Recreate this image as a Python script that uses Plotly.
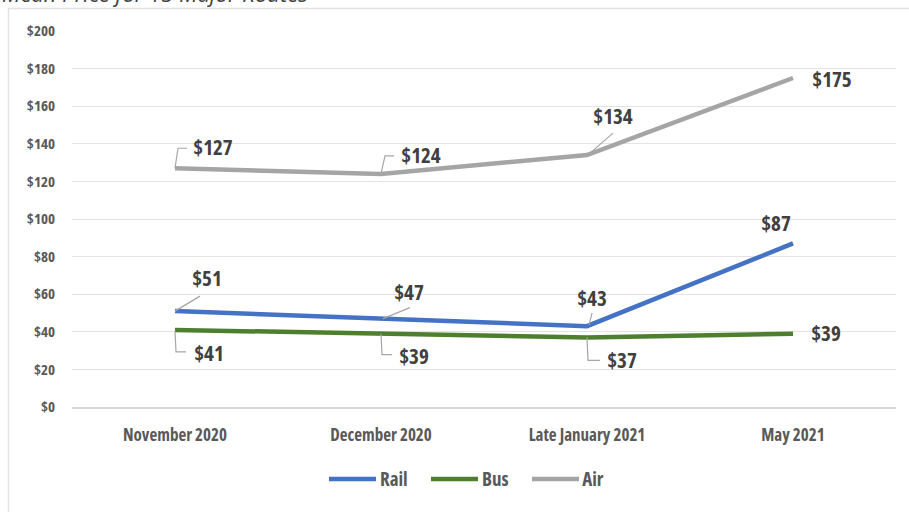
import plotly.graph_objects as go

categories = ["November 2020", "December 2020", "Late January 2021", "May 2021"]
rail = [51, 47, 43, 87]
bus = [41, 39, 37, 39]
air = [127, 124, 134, 175]
series_names = ["Rail", "Bus", "Air"]
y_ticks = [0, 20, 40, 60, 80, 100, 120, 140, 160, 180, 200]
y_tick_labels = ["$" + str(v) for v in y_ticks]

FONT = "Open Sans, sans-serif"
W, H = 909, 512
ML, MR, MT, MB = 72, 13, 31, 105
PW = W - ML - MR
PH = H - MT - MB


def px(x):
    return (x - ML) / PW


def py(y):
    return (MT + PH - y) / PH


colors = {"Rail": "#4472C4", "Bus": "#4E7F2E", "Air": "#A5A5A5"}
series = {"Rail": rail, "Bus": bus, "Air": air}

fig = go.Figure()
for name in series_names:
    fig.add_trace(go.Scatter(
        x=categories, y=series[name], name=name, mode="lines",
        line=dict(color=colors[name], width=4.5),
        hoverinfo="skip", showlegend=False,
    ))

# label offsets (pixels, y up) and leader-line paths (pixels relative to point, y up)
label_specs = {
    "Air": [
        ((38, 21), "M 0 0 L 3 20 L 12 20"),
        ((40, 19), "M 0 0 L 4 18 L 13 18"),
        ((26, 39), "M 3 2 L 26 22"),
        ((39, -1), None),
    ],
    "Rail": [
        ((32, 33), "M 0 0 L 25 15"),
        ((28, 27), "M 2 0 L 29 11"),
        ((5, 28), "M 2 1 L 5 13"),
        ((-17, 20), None),
    ],
    "Bus": [
        ((34, -23), "M 0 -1 L 1 -22 L 11 -22"),
        ((33, -22), "M 0 0 L 1 -21 L 11 -21"),
        ((35, -23), "M 0 0 L 1 -23 L 13 -23"),
        ((33, 1), None),
    ],
}

annotations = []
shapes = []
for name, specs in label_specs.items():
    vals = series[name]
    for i, ((dx, dy), path) in enumerate(specs):
        annotations.append(dict(
            x=categories[i], y=vals[i], xref="x", yref="y",
            text="$" + str(vals[i]), showarrow=False,
            xshift=dx, yshift=dy,
            font=dict(family=FONT, size=21, color="#404040", weight="bold"),
        ))
        if path:
            shapes.append(dict(
                type="path", xref="x", yref="y",
                xsizemode="pixel", ysizemode="pixel",
                xanchor=i, yanchor=vals[i],
                path=path,
                line=dict(color="#A6A6A6", width=1.2),
            ))

# outer frame
shapes.append(dict(
    type="rect", xref="paper", yref="paper",
    x0=px(8.5), x1=px(W + 5), y0=py(H + 5), y1=py(8.5),
    line=dict(color="#E3E3E3", width=1.5), fillcolor="rgba(0,0,0,0)",
    layer="below",
))

# legend (drawn manually to match long legend swatches)
legend_x = {"Rail": 329, "Bus": 431, "Air": 532}
LEG_Y = 479
for name in series_names:
    x0 = legend_x[name]
    shapes.append(dict(
        type="line", xref="paper", yref="paper",
        x0=px(x0), x1=px(x0 + 47), y0=py(LEG_Y), y1=py(LEG_Y),
        line=dict(color=colors[name], width=4.5),
    ))
    annotations.append(dict(
        x=px(x0 + 46), y=py(LEG_Y), xref="paper", yref="paper",
        xanchor="left", yanchor="middle", showarrow=False,
        text=name, borderpad=0,
        font=dict(family=FONT, size=19, color="#595959", weight="bold"),
    ))

annotations.append(dict(
    x=px(0), y=py(10), xref="paper", yref="paper",
    xanchor="left", yanchor="bottom", showarrow=False,
    text="<i>Mean Price for 15 Major Routes</i>",
    font=dict(family="Open Sans, sans-serif", size=22, color="#404040"),
))

fig.update_layout(
    width=W, height=H,
    margin=dict(l=ML, r=MR, t=MT, b=MB, autoexpand=False),
    paper_bgcolor="white", plot_bgcolor="white",
    showlegend=False,
    annotations=annotations,
    shapes=shapes,
    xaxis=dict(
        type="category", range=[-0.5, 3.5],
        showgrid=False, showline=True, linecolor="#D9D9D9", linewidth=1.5,
        ticks="", ticklabelstandoff=12,
        tickfont=dict(family=FONT, size=17, color="#595959", weight="bold"),
        fixedrange=True,
    ),
    yaxis=dict(
        range=[0, 200], tickvals=y_ticks, ticktext=y_tick_labels,
        showgrid=True, gridcolor="#E3E3E3", gridwidth=1, zeroline=False,
        showline=False, ticks="", ticklabelstandoff=16,
        tickfont=dict(family=FONT, size=15, color="#595959", weight="bold"),
        fixedrange=True,
    ),
)

post = (
    "document.body.style.margin='0';"
    "document.querySelectorAll('text').forEach(function(t){"
    "if(t.textContent.indexOf('Mean Price')<0){t.style.fontStretch='condensed';}});"
)
fig.write_html("out.html", post_script=post, config={"displayModeBar": False})
